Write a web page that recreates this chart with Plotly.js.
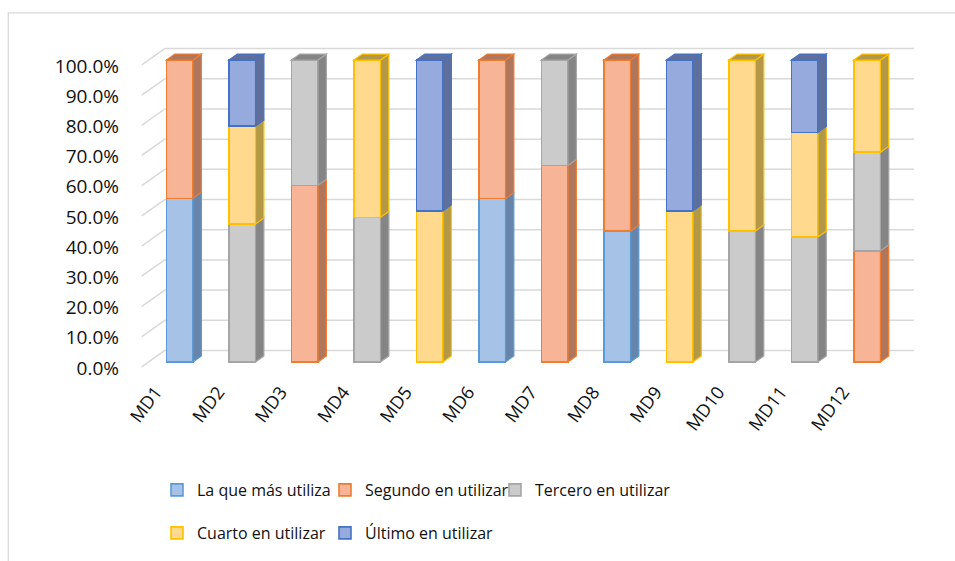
<!DOCTYPE html>
<html>
<head>
<meta charset="utf-8">
<script src="https://cdn.plot.ly/plotly-3.0.1.min.js"></script>
<style>html,body{margin:0;padding:0;background:#fff;}#chart{width:955px;height:561px;}</style>
</head>
<body>
<div id="chart"></div>
<script>
// ---- data ----
const categories = ["MD1","MD2","MD3","MD4","MD5","MD6","MD7","MD8","MD9","MD10","MD11","MD12"];
const seriesNames = ["La que más utiliza","Segundo en utilizar","Tercero en utilizar","Cuarto en utilizar","Último en utilizar"];
const laQueMas   = [0.542,0,0,0,0,0.541,0,0.433,0,0,0,0];
const segundo    = [0.458,0,0.585,0,0,0.459,0.651,0.567,0,0,0,0.368];
const tercero    = [0,0.457,0.415,0.479,0,0,0.349,0,0,0.434,0.414,0.327];
const cuarto     = [0,0.324,0,0.521,0.5,0,0,0,0.5,0.566,0.346,0.305];
const ultimo     = [0,0.219,0,0,0.5,0,0,0,0.5,0,0.240,0];
const yTicks     = [0,0.1,0.2,0.3,0.4,0.5,0.6,0.7,0.8,0.9,1.0];

// ---- styles ----
const fills   = ["#a6c3e7","#f7b496","#cbcbcb","#fed98e","#97aadd"];
const borders = ["#5b9bd5","#ed7d31","#a5a5a5","#ffc000","#4472c4"];
const sides   = ["#6785ab","#b0765b","#858585","#b39848","#5f6f9c"];
const legendIds = ["legend","legend2","legend3","legend4","legend5"];
const legendPos = [[157,490],[325,490],[495,490],[157,533],[325,533]];
const allSeries = [laQueMas, segundo, tercero, cuarto, ultimo];
const xIdx = categories.map((c,i)=>i);
const W = 0.425, DX = 0.134, DY = 0.02;
const FONT = "Open Sans";

const traces = allSeries.map((s,k)=>({
  type:"bar", name: seriesNames[k], x: xIdx, y: s.map(v=>v>0?v:null),
  width: W, marker:{color: fills[k], line:{color: borders[k], width:1.6}},
  legend: legendIds[k], hoverinfo:"skip"
}));

// ---- 3D decoration shapes (computed from the data) ----
const shapes = [];
const GB = 0.038, GF = -0.016, XB = -0.24, XF = -0.608, XE = 11.75;
yTicks.forEach(v=>{
  shapes.push({type:"line", xref:"x", yref:"y", x0:XB, x1:XE, y0:v+GB, y1:v+GB, line:{color:"#d9d9d9", width:1.5}, layer:"below"});
  shapes.push({type:"line", xref:"x", yref:"y", x0:XF, x1:XB, y0:v+GF, y1:v+GB, line:{color:"#d9d9d9", width:1.5}, layer:"below"});
});
categories.forEach((c,i)=>{
  let base = 0, topK = -1;
  allSeries.forEach((s,k)=>{
    const v = s[i];
    if (v>0){
      const x1 = i+W/2, y0 = base, y1 = base+v;
      shapes.push({type:"path", xref:"x", yref:"y",
        path:`M ${x1},${y0} L ${x1+DX},${y0+DY} L ${x1+DX},${y1+DY} L ${x1},${y1} Z`,
        fillcolor: sides[k], line:{color: borders[k], width:1.2}, layer:"above"});
      base = y1; topK = k;
    }
  });
  if (topK>=0){
    const xl = i-W/2, xr = i+W/2;
    shapes.push({type:"path", xref:"x", yref:"y",
      path:`M ${xl},${base} L ${xl+DX},${base+DY} L ${xr+DX},${base+DY} L ${xr},${base} Z`,
      fillcolor: sides[topK], line:{color: borders[topK], width:1.2}, layer:"above"});
  }
});

const ML = 136.25, MR = 40.625, MT = 44.9, MB = 189.94;
const pw = 955-ML-MR, ph = 561-MT-MB;
const px2x = p => (p-ML)/pw, py2y = p => 1-(p-MT)/ph;
shapes.push({type:"rect", xref:"paper", yref:"paper", x0:px2x(8.5), x1:px2x(980), y0:py2y(600), y1:py2y(12.7),
  line:{color:"#d9d9d9", width:1.3}, fillcolor:"rgba(0,0,0,0)", layer:"below"});

const layout = {
  width:955, height:561,
  margin:{l:ML, r:MR, t:MT, b:MB, pad:0},
  paper_bgcolor:"#fff", plot_bgcolor:"rgba(0,0,0,0)",
  barmode:"stack",
  font:{family:FONT, size:17, color:"#111"},
  xaxis:{type:"linear", range:[-0.7,11.75], tickvals:xIdx, ticktext:categories, tickangle:-53,
         showgrid:false, zeroline:false, showline:false, ticks:"", tickfont:{family:FONT, size:18, color:"#111"},
         ticklabelshift:-24, ticklabelstandoff:6},
  yaxis:{range:[-0.03,1.05], tickvals:yTicks, tickformat:".1%", showgrid:false, zeroline:false, showline:false,
         ticks:"", tickfont:{family:FONT, size:19, color:"#111"}, ticklabelshift:6, ticklabelstandoff:16},
  showlegend:true,
  shapes: shapes
};
legendIds.forEach((id,k)=>{
  layout[id] = {orientation:"h", xref:"container", yref:"container", xanchor:"left", yanchor:"middle",
    x: legendPos[k][0]/955, y: 1-legendPos[k][1]/561,
    font:{family:FONT, size:16, color:"#111"}, bgcolor:"rgba(0,0,0,0)"};
});

Plotly.newPlot("chart", traces, layout, {displayModeBar:false, staticPlot:true});
</script>
</body>
</html>
